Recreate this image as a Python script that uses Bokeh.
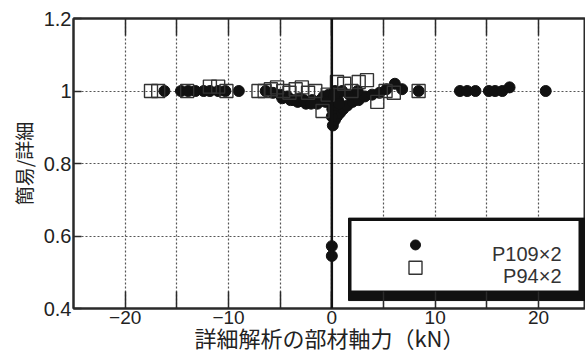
import math
from bokeh.plotting import figure
from bokeh.models import (Range1d, FixedTicker, LinearAxis, Span)
from bokeh.core.properties import value
from bokeh.embed import file_html
from bokeh.resources import INLINE

# ---- data ----
p109_x = [-16.2, -14.6, -13.9, -13.2, -12.4, -11.8, -11.0, -10.3, -9.0,
          -6.4, -5.7, -5.0, -4.3, -3.7, -3.1, -2.5, -1.9, -1.4, -0.8, -0.3,
          -4.8, -4.0, -3.3, -2.7, -2.0, -1.1, -0.6,
          0.1, 0.3, 0.5, 0.8, 1.1, 1.5, 2.0, 2.6, 3.2, 3.9, 4.6, 5.3, 6.1, 6.8, 8.4,
          0.3, 0.6, 1.0, 1.7, 2.5, 0.1, 0.2, 0.0, 0.05, 0.4, 0.7,
          0.0, 0.0,
          12.4, 13.1, 13.9, 15.2, 15.8, 16.5, 17.2, 20.7]
p109_y = [1.0, 1.0, 1.0, 1.0, 1.0, 1.0, 1.0, 1.0, 1.0,
          1.0, 0.995, 0.99, 0.985, 0.975, 0.98, 0.965, 0.975, 0.965, 0.985, 0.99,
          0.98, 0.975, 0.97, 0.975, 0.965, 0.975, 0.97,
          0.905, 0.92, 0.93, 0.94, 0.95, 0.96, 0.97, 0.975, 0.985, 0.99, 0.995, 1.005, 1.02, 1.005, 1.0,
          1.0, 0.975, 1.0, 0.99, 1.0, 0.96, 0.985, 0.93, 0.95, 0.96, 0.965,
          0.572, 0.545,
          1.0, 1.0, 1.0, 1.0, 1.0, 1.0, 1.01, 1.0]

p94_x = [-17.5, -16.8, -14.0, -11.8, -11.0, -10.2, -7.1, -6.5, -5.9, -5.3, -4.7,
         -4.1, -3.5, -2.9, -2.3, -1.6, -0.9, -0.4, 0.5, 1.2, 1.9, 2.6, 3.4, 4.4, 5.2, 6.0, 8.4]
p94_y = [1.0, 1.0, 1.0, 1.012, 1.012, 1.0, 1.0, 1.0, 1.005, 1.01, 1.0,
         0.995, 1.005, 1.01, 0.995, 1.0, 0.945, 0.99, 1.025, 1.02, 1.0, 1.025, 1.03, 0.97, 1.0, 0.995, 1.0]

series_labels = ["P109×2", "P94×2"]
x_major = [-20, -10, 0, 10, 20]
x_minor = [-15, -5, 5, 15]
x_grid = [-20, -15, -10, -5, 0, 5, 10, 15, 20]
y_ticks = [0.4, 0.6, 0.8, 1.0, 1.2]
y_grid = [0.6, 0.8, 1.0]
y_tick_labels = {0.4: "0.4", 0.6: "0.6", 0.8: "0.8", 1: "1", 1.2: "1.2"}
x_title = "詳細解析の部材軸力（kN）"
y_title = "簡易/詳細"

# ---- layout ----
W, H = 585, 355
FL, FT, FB = 73, 18, 310          # frame left / top / bottom in pixels
X0, X1 = -25.0, 24.55
Y0, Y1 = 0.4, 1.2

def px2x(px):
    return X0 + (px - FL) * (X1 - X0) / (W - FL)

def py2y(py):
    return Y1 - (py - FT) * (Y1 - Y0) / (FB - FT)

p = figure(width=W, height=H, output_backend="svg", toolbar_location=None,
           x_range=Range1d(X0, X1), y_range=Range1d(Y0, Y1),
           min_border_left=FL, min_border_right=0, min_border_top=FT,
           min_border_bottom=H - FB)
p.outline_line_color = "#2a2a2a"
p.outline_line_width = 2
p.background_fill_color = "white"
p.border_fill_color = "white"

LABEL_FONT = "Liberation Sans"
CJK_FONT = "Noto Sans CJK JP"
ax_col = "#2a2a2a"

xa = p.xaxis[0]
xa.ticker = FixedTicker(ticks=x_major, minor_ticks=x_minor)
xa.major_tick_in = 17
xa.major_tick_out = 0
xa.minor_tick_in = 17
xa.minor_tick_out = 0
xa.minor_tick_line_color = ax_col
xa.minor_tick_line_width = 1.5
xa.axis_line_width = 2
xa.axis_line_color = ax_col
xa.major_tick_line_color = ax_col
xa.major_tick_line_width = 1.5
xa.major_label_text_font = LABEL_FONT
xa.major_label_text_font_size = "19px"
xa.major_label_text_color = "#222"
xa.major_label_standoff = 2
xa.axis_label = x_title
xa.axis_label_text_font = CJK_FONT
xa.axis_label_text_font_size = "22px"
xa.axis_label_text_font_style = "normal"
xa.axis_label_text_color = "#222"
xa.axis_label_standoff = -6

ya = p.yaxis[0]
ya.ticker = FixedTicker(ticks=y_ticks)
ya.major_label_overrides = y_tick_labels
ya.major_tick_in = 8
ya.major_tick_out = 0
ya.minor_tick_line_color = None
ya.axis_line_width = 2
ya.axis_line_color = ax_col
ya.major_tick_line_color = ax_col
ya.major_tick_line_width = 1.5
ya.major_label_text_font = LABEL_FONT
ya.major_label_text_font_size = "20px"
ya.major_label_text_color = "#222"
ya.major_label_standoff = 2
ya.axis_label = y_title
ya.axis_label_text_font = CJK_FONT
ya.axis_label_text_font_size = "19px"
ya.axis_label_text_font_style = "normal"
ya.axis_label_text_color = "#222"
ya.axis_label_standoff = 4

top = LinearAxis(ticker=FixedTicker(ticks=[], minor_ticks=x_grid),
                 minor_tick_in=17, minor_tick_out=0, major_tick_in=0, major_tick_out=0,
                 major_label_standoff=0, axis_line_width=2, axis_line_color=ax_col,
                 minor_tick_line_color=ax_col, minor_tick_line_width=1.5)
p.add_layout(top, "above")

for g in (p.xgrid[0], p.ygrid[0]):
    g.grid_line_color = "#555"
    g.grid_line_dash = "2 2"
    g.grid_line_width = 1.2
p.xgrid[0].ticker = FixedTicker(ticks=x_grid)
p.ygrid[0].ticker = FixedTicker(ticks=y_grid)

p.add_layout(Span(location=0, dimension="height", line_color="#111", line_width=2.5))

# ---- data marks ----
p.scatter(p109_x, p109_y, marker="circle", size=11, fill_color="#111", line_color="#111")
p.scatter(p94_x, p94_y, marker="square", size=13, fill_color=None, line_color="#333",
          line_width=1.4)

# ---- legend box (drawn) ----
p.quad(left=[px2x(348)], right=[px2x(590)], top=[py2y(219)], bottom=[py2y(302)],
       fill_color="#111", line_color="#111")
p.quad(left=[px2x(351)], right=[px2x(578)], top=[py2y(222)], bottom=[py2y(292)],
       fill_color="white", line_color=None)
p.scatter([px2x(415)], [py2y(246)], marker="circle", size=10, fill_color="#111", line_color="#111")
p.scatter([px2x(415)], [py2y(269)], marker="square", size=13, fill_color=None,
          line_color="#333", line_width=1.4)
p.text([px2x(561), px2x(561)], [py2y(255), py2y(277)], text=series_labels,
       text_align="right", text_baseline="alphabetic", text_font=value(LABEL_FONT),
       text_font_size="20px", text_color="#333")

open("out.html", "w").write(file_html(p, INLINE))
